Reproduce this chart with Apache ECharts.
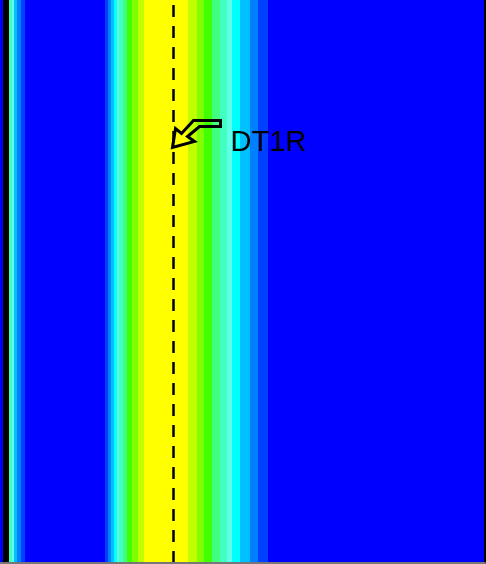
<!DOCTYPE html>
<html>
<head>
<meta charset="utf-8">
<title>DT1R</title>
<style>
  html, body { margin: 0; padding: 0; background: #fff; }
  #main { width: 486px; height: 564px; }
</style>
<script src="https://cdn.jsdelivr.net/npm/echarts@6/dist/echarts.min.js"></script>
</head>
<body>
<div id="main"></div>
<script>
// band edges along x, and the colour level between each pair of edges
const bandEdges = [0, 3, 9, 12, 14, 17, 21, 25, 105, 108, 111, 114, 117, 119, 123, 127, 132, 138, 144, 188, 197, 204, 212, 220, 227, 232, 240, 250, 258, 268, 485];
const bandLevels = [0, 0, 6, 5, 3, 2, 1, 0, 1, 2, 3, 4, 5, 6, 7, 8, 9, 10, 11, 10, 9, 8, 7, 6, 5, 4, 3, 2, 1, 0];
// contour level colours (low -> high)
const levelColors = ["#0000ff", "#0040ff", "#0080ff", "#00c0ff", "#00ffff", "#60ffe8", "#40ffc0", "#40ff80", "#40ff00", "#80ff00", "#c0ff00", "#ffff00"];
// vertical marker lines
const dashedLineX = 173;
const solidLineX = 6;
// annotation
const labelText = "DT1R";
const labelTip = [172.5, 73.8];

const xMin = 0, xMax = 485;
const yMin = 0, yMax = 100;

const bandData = bandLevels.map((lv, i) => [bandEdges[i], bandEdges[i + 1], lv]);

function renderBand(params, api) {
  const p0 = api.coord([api.value(0), yMax]);
  const p1 = api.coord([api.value(1), yMin]);
  return {
    type: "rect",
    shape: { x: p0[0], y: p0[1], width: p1[0] - p0[0], height: p1[1] - p0[1] },
    style: { fill: levelColors[api.value(2)] }
  };
}

// hollow arrow pointing at the dashed line, text to the right
function renderLabel(params, api) {
  const tip = api.coord([api.value(0), api.value(1)]);
  const outline = [
    [21, -27], [48, -27], [48, -21], [27, -21], [15, -11], [22, -6],
    [0, 0], [3, -19], [9, -14]
  ].map(p => [tip[0] + p[0], tip[1] + p[1]]);
  return {
    type: "group",
    children: [
      {
        type: "polygon",
        shape: { points: outline },
        style: { fill: null, stroke: "#000", lineWidth: 3, lineJoin: "miter" }
      },
      {
        type: "text",
        style: {
          text: labelText,
          x: tip[0] + 58,
          y: tip[1] - 5,
          fill: "#000",
          font: '29px "Liberation Sans", Arial, sans-serif',
          align: "left",
          verticalAlign: "middle"
        }
      }
    ]
  };
}

const option = {
  animation: false,
  grid: { left: 0, right: 1, top: 0, bottom: 1 },
  xAxis: {
    type: "value",
    min: xMin,
    max: xMax,
    z: 10,
    axisLine: { show: true, onZero: false, lineStyle: { color: "#777", width: 2 } },
    axisTick: { show: false },
    axisLabel: { show: false },
    splitLine: { show: false }
  },
  yAxis: {
    type: "value",
    min: yMin,
    max: yMax,
    position: "right",
    z: 10,
    axisLine: { show: true, onZero: false, lineStyle: { color: "#000", width: 3 } },
    axisTick: { show: false },
    axisLabel: { show: false },
    splitLine: { show: false }
  },
  series: [
    {
      type: "custom",
      renderItem: renderBand,
      data: bandData,
      clip: true,
      silent: true,
      markLine: {
        silent: true,
        symbol: "none",
        label: { show: false },
        data: [
          { xAxis: dashedLineX, lineStyle: { color: "#000", width: 2.5, type: [12, 9] } },
          { xAxis: solidLineX, lineStyle: { color: "#000", width: 6, type: "solid" } }
        ]
      }
    },
    {
      type: "custom",
      renderItem: renderLabel,
      data: [labelTip],
      silent: true,
      z: 5
    }
  ]
};

const myChart = echarts.init(document.getElementById("main"));
myChart.setOption(option);
</script>
</body>
</html>
